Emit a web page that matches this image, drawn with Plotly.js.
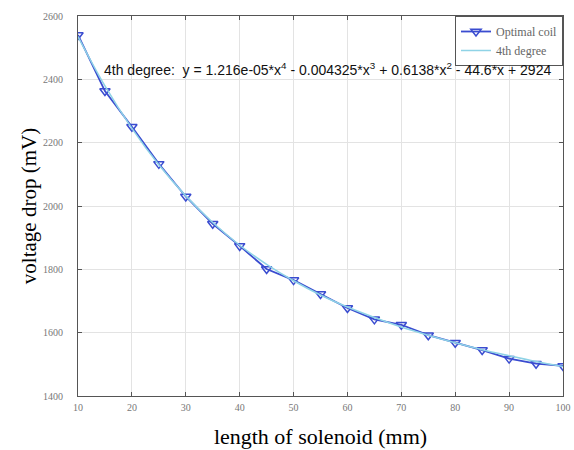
<!DOCTYPE html>
<html><head><meta charset="utf-8">
<script src="https://cdn.plot.ly/plotly-3.0.1.min.js"></script>
<style>html,body{margin:0;padding:0;background:#fff}#c{width:574px;height:450px}</style>
</head><body><div id="c"></div>
<script>
const lengthMm = [10,15,20,25,30,35,40,45,50,55,60,65,70,75,80,85,90,95,100];
const optimalCoil = [2540,2363,2250,2133,2030,1944,1874,1801,1766,1722,1678,1642,1625,1592,1568,1545,1518,1502,1495];
const fourthDegree = [2535,2379,2245,2130,2032,1948,1876,1816,1764,1719,1681,1648,1618,1592,1568,1546,1527,1509,1493];
const xTicks = [10,20,30,40,50,60,70,80,90,100];
const yTicks = [1400,1600,1800,2000,2200,2400,2600];
const eqText = '4th degree:  y = 1.216e-05*x<sup>4</sup> - 0.004325*x<sup>3</sup> + 0.6138*x<sup>2</sup> - 44.6*x + 2924';

const serif = 'Liberation Serif, Times New Roman, serif';
const traces = [
  {x: lengthMm, y: optimalCoil, name: 'Optimal coil', mode: 'lines+markers',
   line: {color: '#3a4cd0', width: 1.8},
   marker: {symbol: 'triangle-down-open', size: 9, color: '#3a4cd0', line: {width: 1.5}}},
  {x: lengthMm, y: fourthDegree, name: '4th degree', mode: 'lines',
   line: {color: '#8fd3e6', width: 1.5, shape: 'spline'}}
];
const axisCommon = {showline: true, mirror: 'ticks', linecolor: '#555', linewidth: 1,
  ticks: 'inside', ticklen: 4, tickcolor: '#555', showgrid: true, gridcolor: '#e3e3e3',
  zeroline: false, tickfont: {family: serif, size: 10, color: '#777'}};
const layout = {
  width: 574, height: 450,
  margin: {l: 78, r: 11, t: 16, b: 54},
  paper_bgcolor: '#fff', plot_bgcolor: '#fff',
  showlegend: true,
  legend: {x: 1, y: 1, xanchor: 'right', yanchor: 'top', bgcolor: '#fff',
    bordercolor: '#555', borderwidth: 1, font: {family: serif, size: 12, color: '#666'},
    tracegroupgap: 0},
  xaxis: Object.assign({}, axisCommon, {range: [10, 100], tickvals: xTicks, ticklabelstandoff: 2,
    title: {text: 'length of solenoid (mm)', font: {family: serif, size: 22, color: '#000'}, standoff: 16}}),
  yaxis: Object.assign({}, axisCommon, {range: [1400, 2600], tickvals: yTicks, ticklabelstandoff: 12,
    title: {text: 'voltage drop (mV)', font: {family: serif, size: 21, color: '#000'}, standoff: 0}}),
  annotations: [{xref: 'paper', yref: 'paper', x: 0.05, y: 0.86, xanchor: 'left', yanchor: 'middle',
    text: eqText, showarrow: false, font: {family: 'Liberation Sans, Arial, sans-serif', size: 14, color: '#111'}}]
};
Plotly.newPlot('c', traces, layout, {displayModeBar: false});
</script></body></html>
